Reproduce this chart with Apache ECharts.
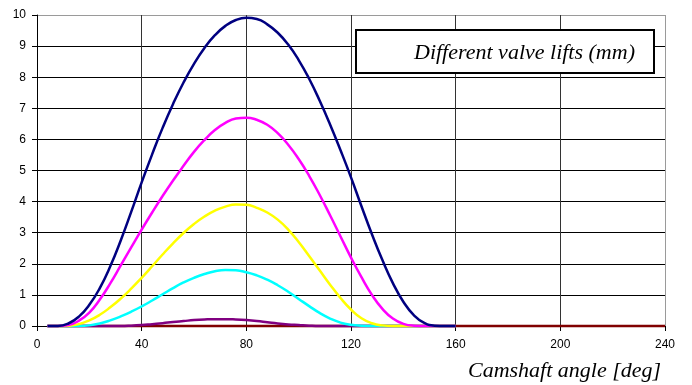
<!DOCTYPE html>
<html>
<head>
<meta charset="utf-8">
<script src="https://cdn.jsdelivr.net/npm/echarts@6/dist/echarts.min.js"></script>
<style>
  html, body { margin: 0; padding: 0; background: #fff; }
  #chart { width: 692px; height: 385px; }
</style>
</head>
<body>
<div id="chart"></div>
<script>
// Camshaft angle samples (deg)
const angles = [4, 8, 12, 16, 20, 24, 28, 32, 36, 40, 44, 48, 52, 56, 60, 64, 68, 72, 76, 80,
                84, 88, 92, 96, 100, 104, 108, 112, 116, 120, 124, 128, 132, 136, 140, 144, 148, 152, 156, 160];

// Valve lift curves (mm)
const lift1 = [0, 0, 0.08, 0.3, 0.68, 1.22, 1.92, 2.75, 3.67, 4.62, 5.52, 6.37, 7.14, 7.83, 8.43, 8.94, 9.35, 9.65, 9.84, 9.91,
               9.87, 9.7, 9.43, 9.05, 8.55, 7.95, 7.25, 6.48, 5.65, 4.78, 3.85, 2.95, 2.12, 1.38, 0.78, 0.35, 0.1, 0.01, 0, 0];
const lift2 = [0, 0, 0.03, 0.17, 0.43, 0.85, 1.37, 1.95, 2.53, 3.1, 3.65, 4.18, 4.68, 5.15, 5.6, 5.98, 6.3, 6.53, 6.67, 6.7,
               6.63, 6.47, 6.2, 5.83, 5.37, 4.83, 4.22, 3.56, 2.88, 2.2, 1.57, 1.0, 0.55, 0.24, 0.07, 0.01, 0, 0, 0, 0];
const lift3 = [0, 0, 0.01, 0.06, 0.18, 0.36, 0.6, 0.88, 1.2, 1.55, 1.92, 2.3, 2.66, 2.99, 3.28, 3.52, 3.71, 3.84, 3.91, 3.9,
               3.8, 3.65, 3.42, 3.1, 2.7, 2.25, 1.79, 1.33, 0.9, 0.53, 0.25, 0.09, 0.02, 0, 0, 0, 0, 0, 0, 0];
const lift4 = [0, 0, 0, 0, 0.02, 0.08, 0.18, 0.31, 0.46, 0.63, 0.82, 1.02, 1.22, 1.4, 1.55, 1.67, 1.76, 1.8, 1.79, 1.73,
               1.63, 1.49, 1.31, 1.1, 0.87, 0.64, 0.42, 0.24, 0.11, 0.04, 0.01, 0, 0, 0, 0, 0, 0, 0, 0, 0];
const lift5 = [0, 0, 0, 0, 0, 0, 0, 0, 0.01, 0.03, 0.06, 0.09, 0.13, 0.16, 0.19, 0.21, 0.22, 0.22, 0.21, 0.19,
               0.16, 0.12, 0.08, 0.05, 0.03, 0.01, 0, 0, 0, 0, 0, 0, 0, 0, 0, 0, 0, 0, 0, 0];
// Zero-lift baseline spans the full angle range
const baseAngles = [4, 240];
const lift6 = [0, 0];

const xTicks = [0, 40, 80, 120, 160, 200, 240];
const yTicks = [0, 1, 2, 3, 4, 5, 6, 7, 8, 9, 10];

const colors = ['#000080', '#FF00FF', '#FFFF00', '#00FFFF', '#800080', '#800000'];

function pairs(xs, ys) { return xs.map((x, i) => [x, ys[i]]); }

const hLineColors = yTicks.map((v, i) => (i === yTicks.length - 1 ? '#9a9a9a' : '#000'));
const vLineColors = xTicks.map((v, i) => (i === xTicks.length - 1 ? '#9a9a9a' : '#333'));

const curves = [
  pairs(angles, lift1), pairs(angles, lift2), pairs(angles, lift3),
  pairs(angles, lift4), pairs(angles, lift5), pairs(baseAngles, lift6)
];

const chart = echarts.init(document.getElementById('chart'), null, { renderer: 'canvas' });
chart.setOption({
  animation: false,
  backgroundColor: '#fff',
  grid: { left: 37, top: 15, right: 27, bottom: 59, containLabel: false },
  xAxis: {
    type: 'value', min: xTicks[0], max: xTicks[xTicks.length - 1], interval: 40,
    axisLine: { show: true, lineStyle: { color: '#000', width: 1 } },
    axisTick: { show: true, length: 5, lineStyle: { color: '#000' } },
    axisLabel: { color: '#000', fontFamily: 'Liberation Sans', fontSize: 12, margin: 13 },
    splitLine: { show: true, lineStyle: { color: vLineColors, width: 1 } }
  },
  yAxis: {
    type: 'value', min: yTicks[0], max: yTicks[yTicks.length - 1], interval: 1,
    axisLine: { show: true, lineStyle: { color: '#000', width: 1 } },
    axisTick: { show: true, length: 5, lineStyle: { color: '#000' } },
    axisLabel: { color: '#000', fontFamily: 'Liberation Sans', fontSize: 12, margin: 11 },
    splitLine: { show: true, lineStyle: { color: hLineColors, width: 1 } }
  },
  graphic: [
    {
      type: 'rect', left: 355, top: 29, z: 100,
      shape: { width: 298, height: 43 },
      style: { fill: '#fff', stroke: '#000', lineWidth: 2 }
    },
    {
      type: 'text', left: 414, top: 42, z: 101,
      style: { text: 'Different valve lifts (mm)', fill: '#000',
               font: 'italic 22px "Liberation Serif"' }
    },
    {
      type: 'text', left: 468, top: 360, z: 101,
      style: { text: 'Camshaft angle [deg]', fill: '#000',
               font: 'italic 22px "Liberation Serif"' }
    }
  ],
  series: curves.map((d, i) => ({
    type: 'line',
    data: d,
    smooth: 0.5,
    symbol: 'none',
    clip: false,
    z: 2 + (curves.length - i),
    lineStyle: { color: colors[i], width: 2.5 }
  }))
});
</script>
</body>
</html>
